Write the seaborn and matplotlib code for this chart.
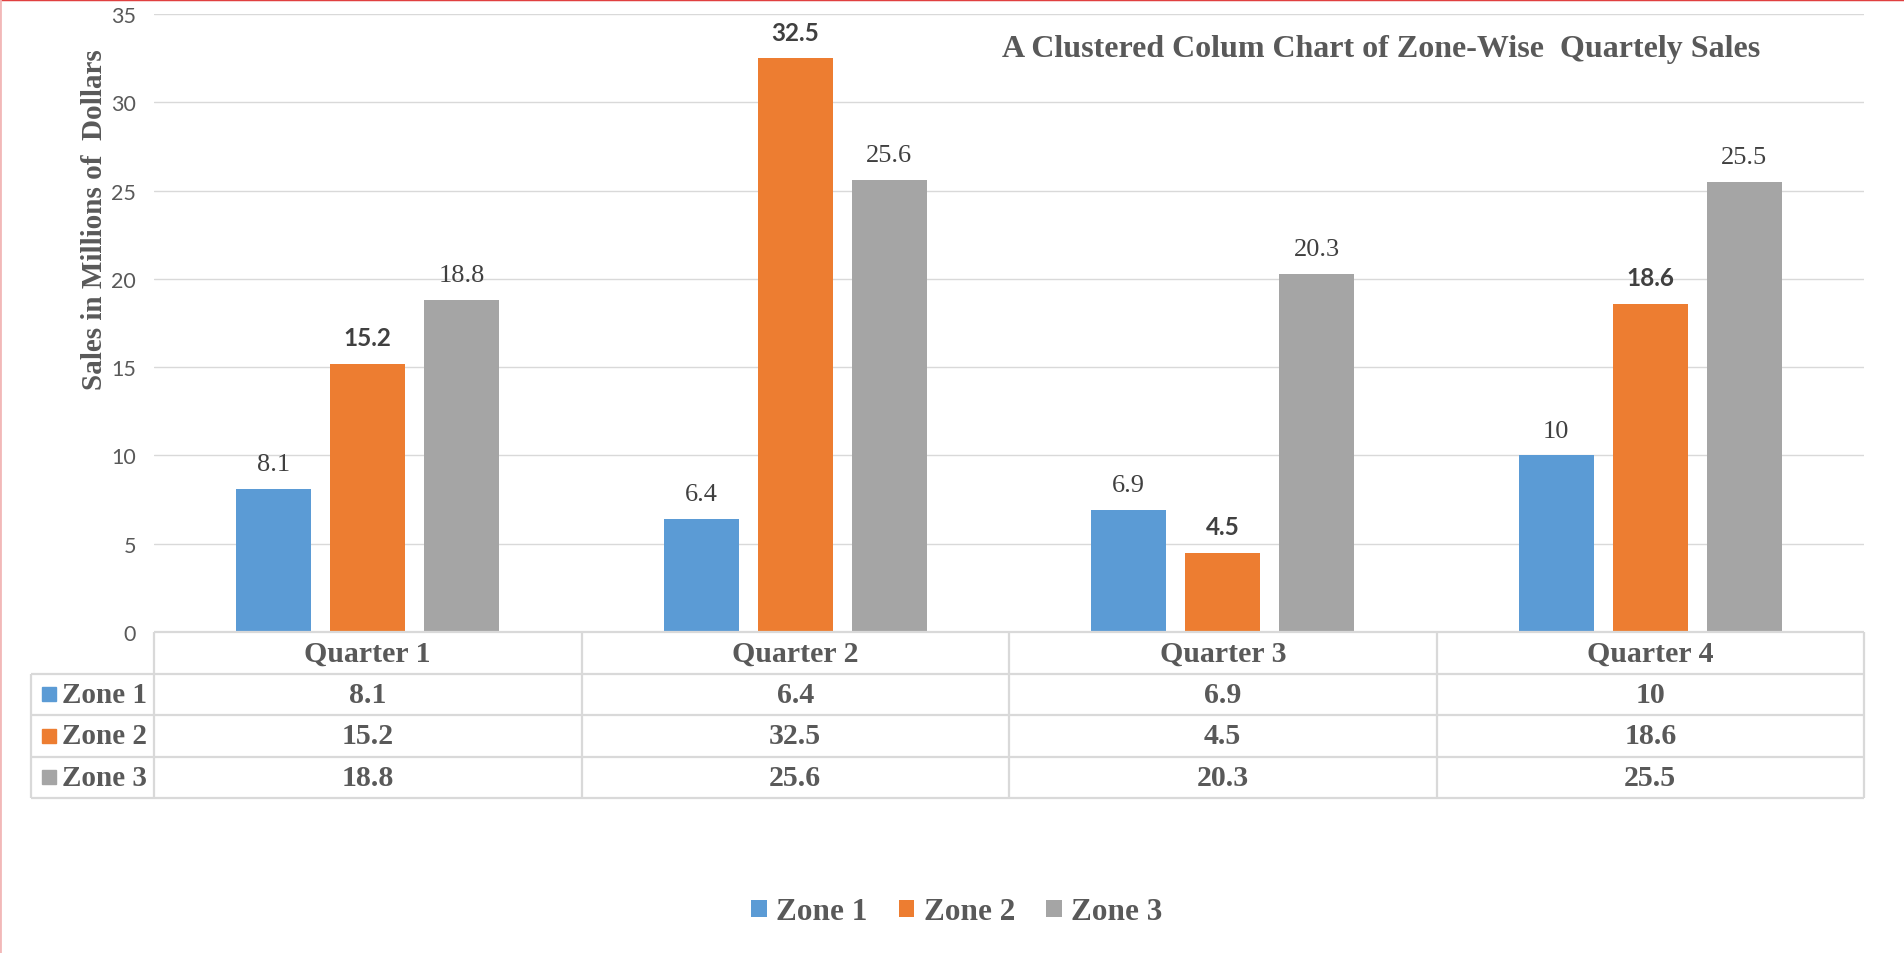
import matplotlib
matplotlib.use("Agg")
import matplotlib.pyplot as plt
from matplotlib.patches import Patch
from matplotlib.lines import Line2D
import seaborn as sns
import pandas as pd

# ---- data -------------------------------------------------------------
quarters = ["Quarter 1", "Quarter 2", "Quarter 3", "Quarter 4"]
zones = ["Zone 1", "Zone 2", "Zone 3"]
zone1 = [8.1, 6.4, 6.9, 10]
zone2 = [15.2, 32.5, 4.5, 18.6]
zone3 = [18.8, 25.6, 20.3, 25.5]
zone_colors = ["#5B9BD5", "#ED7D31", "#A5A5A5"]
yticks = [0, 5, 10, 15, 20, 25, 30, 35]

title = "A Clustered Colum Chart of Zone-Wise  Quartely Sales"
ylabel = "Sales in Millions of  Dollars"

series = [zone1, zone2, zone3]
df = pd.DataFrame({
    "Quarter": quarters * len(zones),
    "Zone": [z for z in zones for _ in quarters],
    "Sales": zone1 + zone2 + zone3,
})

# ---- styling ----------------------------------------------------------
sns.set_theme(style="white")
plt.rcParams["font.family"] = ["Liberation Serif", "DejaVu Serif"]
TEXT = "#595959"
LABEL = "#404040"
GRID = "#D9D9D9"
SERIF_B = dict(family="Liberation Serif", weight="bold", color=TEXT)

W, H = 1904, 954
fig = plt.figure(figsize=(W / 100, H / 100), dpi=100)


def fx(px):
    return px / W


def fy(py):
    return 1 - py / H


# plot area in pixel coordinates
L, R, T, B = 154, 1864, 15, 633
ax = fig.add_axes([fx(L), fy(B), (R - L) / W, (B - T) / H])

sns.barplot(data=df, x="Quarter", y="Sales", hue="Zone", order=quarters,
            hue_order=zones, palette=zone_colors, saturation=1,
            width=0.66, gap=0.2, errorbar=None, legend=False,
            linewidth=0, ax=ax)

ax.set_xlim(-0.5, 3.5)
ax.set_ylim(0, 35)
ax.set_yticks(yticks)
ax.set_yticklabels([str(t) for t in yticks], family="Lato", fontsize=15.5, color=TEXT)
ax.tick_params(axis="y", length=0, pad=13)
ax.tick_params(axis="x", length=0, labelbottom=False)
ax.set_xlabel("")
ax.set_ylabel("")
ax.grid(axis="y", color=GRID, linewidth=1.0)
ax.grid(axis="x", visible=False)
ax.set_axisbelow(True)
for s in ax.spines.values():
    s.set_visible(False)

# value labels above each bar
for i, cont in enumerate(ax.containers):
    if zones[i] == "Zone 2":
        ax.bar_label(cont, labels=[f"{v:g}" for v in series[i]], padding=10.5,
                     family="Lato", weight="bold", fontsize=17.5, color=LABEL)
    else:
        ax.bar_label(cont, labels=[f"{v:g}" for v in series[i]], padding=10,
                     family="Liberation Serif", fontsize=19, color=LABEL)

# ---- data table under the axis ---------------------------------------
TB = 799
tab = fig.add_axes([fx(L), fy(TB), (R - L) / W, (TB - B) / H])
tab.set_xlim(-0.5, 3.5)
tab.set_ylim(4, 0)
tab.axis("off")
col_w_px = (R - L) / len(quarters)
x_left = -0.5 - (L - 31) / col_w_px

line_kw = dict(color=GRID, linewidth=1.6, clip_on=False)
tab.hlines(0, -0.5, 3.5, **line_kw)
tab.hlines([1, 2, 3, 4], x_left, 3.5, **line_kw)
tab.vlines([-0.5 + k for k in range(len(quarters) + 1)], 0, 4, **line_kw)
tab.vlines(x_left, 1, 4, **line_kw)

for j, q in enumerate(quarters):
    tab.text(j, 0.5, q, ha="center", va="center", fontsize=21.5, **SERIF_B)
for r, (z, vals, c) in enumerate(zip(zones, series, zone_colors), start=1):
    tab.plot([x_left + 18 / col_w_px], [r + 0.5], marker="s", markersize=10,
             color=c, linestyle="none", clip_on=False)
    tab.text(x_left + 31 / col_w_px, r + 0.5, z, ha="left", va="center",
             fontsize=21, **SERIF_B)
    for j, v in enumerate(vals):
        tab.text(j, r + 0.5, f"{v:g}", ha="center", va="center",
                 fontsize=21.5, **SERIF_B)

# ---- titles, legend ---------------------------------------------------
fig.text(fx(1002), fy(57), title, ha="left", va="baseline",
         fontsize=23, **SERIF_B)
fig.text(fx(95), fy(220), ylabel, rotation=90, ha="center", va="center",
         fontsize=21, **SERIF_B)

handles = [Patch(facecolor=c, edgecolor="none", label=z)
           for z, c in zip(zones, zone_colors)]
leg = fig.legend(handles=handles, loc="center", bbox_to_anchor=(fx(957), fy(913)),
                 ncol=3, frameon=False, handlelength=0.5, handleheight=0.5,
                 handletextpad=0.3, columnspacing=1.0,
                 prop=dict(family="Liberation Serif", weight="bold", size=22.5))
for t in leg.get_texts():
    t.set_color(TEXT)

# thin frame marks along the top and left edges
fig.add_artist(Line2D([0, 1], [1, 1], transform=fig.transFigure,
                      color="#E04040", linewidth=2.5))
fig.add_artist(Line2D([0, 0], [0, 1], transform=fig.transFigure,
                      color="#F2B8B8", linewidth=2))

fig.savefig("out.png", dpi=100, facecolor="white")
